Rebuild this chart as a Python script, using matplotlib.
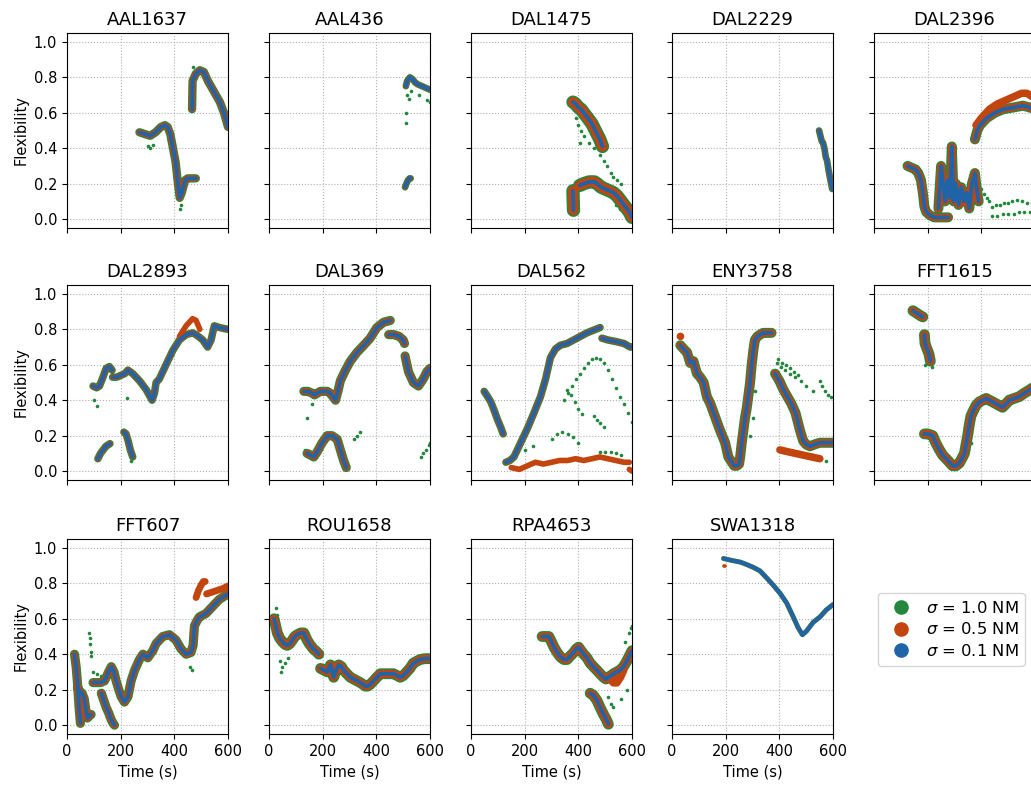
import numpy as np
import matplotlib
matplotlib.use("Agg")
import matplotlib.pyplot as plt
from matplotlib.lines import Line2D

nan = np.nan

# Flight names in panel order
names = ["AAL1637", "AAL436", "DAL1475", "DAL2229", "DAL2396",
         "DAL2893", "DAL369", "DAL562", "ENY3758", "FFT1615",
         "FFT607", "ROU1658", "RPA4653", "SWA1318"]

sigma_labels = [r"$\sigma$ = 1.0 NM", r"$\sigma$ = 0.5 NM", r"$\sigma$ = 0.1 NM"]

# main trace (all sigmas), NaN splits separate pieces
aal1637_t = [270, 290, 310, 330, 350, 365, 375, 385, 395, 405, 412, 420, 428, 440, 450, 465, 480,
             nan, 466, 468, 480, 495, 510, 525, 540, 555, 570, 585, 600]
aal1637_f = [0.49, 0.48, 0.47, 0.49, 0.52, 0.53, 0.52, 0.48, 0.40, 0.32, 0.22, 0.12, 0.15, 0.22, 0.23, 0.23, 0.23,
             nan, 0.62, 0.78, 0.82, 0.84, 0.83, 0.78, 0.74, 0.70, 0.66, 0.60, 0.52]
aal1637_ot = []
aal1637_of = []
aal1637_gt = [300, 310, 320, 420, 425, 470, 478, 520, 560]
aal1637_gf = [0.41, 0.40, 0.42, 0.06, 0.08, 0.86, 0.83, 0.76, 0.68]

aal436_t = [510, 515, 525, 535, 545, 555, 570, 585, 600, nan, 507, 512, 518, 524, 528]
aal436_f = [0.75, 0.78, 0.80, 0.79, 0.77, 0.76, 0.75, 0.74, 0.73, nan, 0.18, 0.20, 0.22, 0.23, 0.23]
aal436_ot = []
aal436_of = []
aal436_gt = [510, 510, 515, 520, 530, 560, 590, 600]
aal436_gf = [0.60, 0.54, 0.70, 0.68, 0.72, 0.70, 0.67, 0.66]

dal1475_t = [380, 390, 400, 410, 420, 430, 440, 450, 460, 470, 480, 490,
             nan, 405, 420, 440, 460, 470, 485, 500, 515, 530, 545, 560, 575, 590, 600,
             nan, 380, 381, 382]
dal1475_f = [0.66, 0.65, 0.63, 0.62, 0.60, 0.58, 0.56, 0.54, 0.51, 0.48, 0.45, 0.41,
             nan, 0.19, 0.20, 0.21, 0.21, 0.20, 0.18, 0.17, 0.16, 0.15, 0.13, 0.10, 0.07, 0.04, 0.01,
             nan, 0.16, 0.10, 0.05]
dal1475_ot = []
dal1475_of = []
dal1475_gt = [392, 398, 405, 410, 420, 440, 460, 480, 495, 505, 520, 530, 545, 560, 540, 555]
dal1475_gf = [0.57, 0.53, 0.43, 0.50, 0.47, 0.43, 0.40, 0.36, 0.33, 0.30, 0.26, 0.24, 0.22, 0.20, 0.08, 0.06]

dal2229_t = [548, 553, 558, 563, 568, 573, 578, 583, 588, 593, 597]
dal2229_f = [0.50, 0.47, 0.44, 0.43, 0.40, 0.35, 0.33, 0.28, 0.24, 0.20, 0.17]
dal2229_ot = []
dal2229_of = []
dal2229_gt = []
dal2229_gf = []

dal2396_t = [125, 140, 155, 165, 175, 182, 188, 195, 210, 225, 240, 255, 270, 276,
             nan, 240, 250, 258, 265, 275, 283, 290, 297, 305, 315, 325, 335, 345, 355, 365, 376, 382, 390,
             nan, 376, 385, 395, 420, 450, 481, 520, 555, 580, 600]
dal2396_f = [0.30, 0.29, 0.28, 0.26, 0.22, 0.15, 0.07, 0.04, 0.02, 0.01, 0.01, 0.01, 0.01, 0.01,
             nan, 0.06, 0.30, 0.20, 0.10, 0.22, 0.12, 0.41, 0.10, 0.20, 0.08, 0.18, 0.10, 0.15, 0.06, 0.20,
             0.26, 0.18, 0.10,
             nan, 0.45, 0.50, 0.53, 0.57, 0.60, 0.62, 0.63, 0.64, 0.63, 0.62]
dal2396_ot = [380, 400, 430, 460, 490, 520, 550, 570, 590, 600,
              nan, 250, 262, 275, 288, 300, 312, 325, 340]
dal2396_of = [0.53, 0.57, 0.62, 0.65, 0.67, 0.69, 0.71, 0.71, 0.69, 0.68,
              nan, 0.18, 0.14, 0.16, 0.12, 0.14, 0.10, 0.12, 0.09]
dal2396_gt = [380, 390, 400, 410, 420, 430, 440, 455, 470, 485, 500, 515, 533, 550, 570, 590, 600,
              440, 460, 480, 500, 520, 540, 560, 580, 600]
dal2396_gf = [0.24, 0.20, 0.17, 0.14, 0.12, 0.10, 0.07, 0.08, 0.08, 0.09, 0.09, 0.10, 0.11, 0.10, 0.09, 0.09, 0.08,
              0.02, 0.02, 0.03, 0.03, 0.03, 0.04, 0.04, 0.04, 0.04]

dal2893_t = [97, 110, 121, 134, 146, 158, 168,
             nan, 170, 185, 200, 215, 227, 245, 270, 295, 317, 326, 332, 344, 369, 394, 419, 444, 468,
             481, 506, 524, 537, 549, 568, 600,
             nan, 115, 125, 135, 145, 155, 160,
             nan, 212, 220, 228, 236, 245]
dal2893_f = [0.48, 0.47, 0.48, 0.53, 0.58, 0.59, 0.57,
             nan, 0.53, 0.53, 0.54, 0.55, 0.57, 0.55, 0.51, 0.46, 0.40, 0.44, 0.50, 0.52, 0.60, 0.68, 0.74, 0.77, 0.78,
             0.77, 0.74, 0.70, 0.74, 0.82, 0.81, 0.80,
             nan, 0.07, 0.10, 0.12, 0.14, 0.15, 0.155,
             nan, 0.22, 0.21, 0.17, 0.12, 0.08]
dal2893_ot = [419, 444, 468, 481, 495]
dal2893_of = [0.76, 0.82, 0.86, 0.85, 0.80]
dal2893_gt = [100, 110, 225, 240]
dal2893_gf = [0.40, 0.37, 0.41, 0.06]

dal369_t = [130, 145, 160, 170, 180, 192, 205, 217, 228, 238, 248, 257, 266, 285, 303, 328, 353, 377,
            402, 427, 452,
            nan, 446, 465, 485, 500, 505,
            nan, 507, 520, 538, 557, 575, 588, 600,
            nan, 142, 155, 167, 180, 198, 217, 235, 254, 266, 278, 288]
dal369_f = [0.45, 0.45, 0.44, 0.43, 0.44, 0.45, 0.45, 0.45, 0.44, 0.42, 0.40, 0.45, 0.51, 0.57, 0.62, 0.67,
            0.71, 0.75, 0.81, 0.84, 0.85,
            nan, 0.77, 0.77, 0.76, 0.74, 0.72,
            nan, 0.65, 0.56, 0.50, 0.48, 0.52, 0.56, 0.58,
            nan, 0.10, 0.09, 0.08, 0.11, 0.16, 0.20, 0.20, 0.18, 0.12, 0.06, 0.02]
dal369_ot = []
dal369_of = []
dal369_gt = [316, 328, 340, 565, 575, 585, 595, 600, 135, 140, 160]
dal369_gf = [0.18, 0.20, 0.22, 0.08, 0.10, 0.12, 0.15, 0.16, 0.12, 0.30, 0.38]

dal562_t = [49, 62, 74, 87, 99, 110, 120,
            nan, 130, 145, 160, 185, 210, 235, 259, 278, 296, 315, 333, 358, 395, 432, 481,
            nan, 488, 510, 543, 570, 593, 600]
dal562_f = [0.45, 0.42, 0.39, 0.34, 0.29, 0.25, 0.21,
            nan, 0.05, 0.06, 0.08, 0.16, 0.24, 0.33, 0.42, 0.52, 0.64, 0.69, 0.71, 0.72, 0.75, 0.78, 0.81,
            nan, 0.75, 0.74, 0.73, 0.72, 0.70, 0.70]
# spread of the noisier runs (orange band near zero)
dal562_ot = [150, 180, 210, 240, 270, 300, 330, 360, 390, 420, 450, 480, 510, 540, 570, 590, nan, 590, 600]
dal562_of = [0.02, 0.01, 0.03, 0.05, 0.04, 0.05, 0.06, 0.06, 0.07, 0.06, 0.07, 0.08, 0.07, 0.06, 0.05, 0.05,
             nan, 0.01, 0.0]
dal562_gt = [345, 360, 375, 390, 405, 420, 435, 450, 465, 480, 495, 510, 525, 540, 555, 570, 585, 600,
             300, 320, 340, 360, 380, 400,
             358, 372, 386, 400, 414, 457, 470, 482, 494,
             480, 500, 520, 540, 560, 200, 230]
dal562_gf = [0.40, 0.44, 0.48, 0.52, 0.55, 0.58, 0.61, 0.63, 0.64, 0.63, 0.61, 0.57, 0.52, 0.47, 0.42, 0.38, 0.33, 0.28,
             0.18, 0.21, 0.22, 0.21, 0.19, 0.16,
             0.46, 0.43, 0.39, 0.35, 0.32, 0.31, 0.29, 0.27, 0.25,
             0.11, 0.11, 0.11, 0.10, 0.09, 0.12, 0.14]

eny3758_t = [31, 43, 56, 68, 80, 93, 105, 118, 130, 143, 155, 167, 179, 190, 198, 210, 223, 232, 241, 250,
             254, 260, 266, 272, 278, 285, 291, 297, 303, 309, 318, 328, 340, 353, 365, 371,
             nan, 384, 400, 415, 430, 445, 460, 477, 489, 500, 514, 530, 551, 575, 600]
eny3758_f = [0.71, 0.69, 0.67, 0.61, 0.62, 0.55, 0.53, 0.50, 0.42, 0.38, 0.33, 0.28, 0.23, 0.19, 0.16, 0.08,
             0.05, 0.03, 0.03, 0.04, 0.08, 0.16, 0.23, 0.30, 0.35, 0.43, 0.50, 0.60, 0.68, 0.74, 0.76, 0.77,
             0.78, 0.78, 0.78, 0.78,
             nan, 0.55, 0.51, 0.46, 0.42, 0.38, 0.33, 0.23, 0.17, 0.15, 0.14, 0.15, 0.16, 0.16, 0.16]
eny3758_ot = [31, 32, nan, 402, 430, 460, 490, 520, 551]
eny3758_of = [0.76, 0.76, nan, 0.12, 0.11, 0.10, 0.09, 0.08, 0.07]
eny3758_gt = [390, 405, 420, 440, 460, 480, 500, 526,
              395, 410, 425, 440, 455, 470,
              551, 560, 570, 580, 594,
              415, 450, 480, 520, 551, 575, 290, 300, 310]
eny3758_gf = [0.61, 0.59, 0.57, 0.55, 0.53, 0.51, 0.48, 0.45,
              0.63, 0.61, 0.60, 0.58, 0.56, 0.54,
              0.51, 0.48, 0.45, 0.43, 0.42,
              0.12, 0.11, 0.10, 0.09, 0.08, 0.06, 0.20, 0.30, 0.45]

fft1615_t = [145, 155, 165, 175, 182,
             nan, 188, 190, 195, 200, 205, 210,
             nan, 188, 200, 219, 230, 244, 256, 269, 281, 293, 305, 318, 327, 337, 343, 349, 355, 361, 370, 380,
             392, 405, 418, 430, 443, 455, 467, 479, 492, 504, 522, 541, 560, 582, 600]
fft1615_f = [0.905, 0.895, 0.885, 0.875, 0.87,
             nan, 0.77, 0.72, 0.70, 0.68, 0.66, 0.62,
             nan, 0.21, 0.21, 0.20, 0.16, 0.12, 0.09, 0.07, 0.05, 0.03, 0.03, 0.045, 0.07, 0.10, 0.15, 0.20,
             0.26, 0.31, 0.34, 0.37, 0.39, 0.40, 0.41, 0.40, 0.39, 0.38, 0.37, 0.36, 0.38, 0.40, 0.41, 0.42,
             0.44, 0.46, 0.48]
fft1615_ot = []
fft1615_of = []
fft1615_gt = [190, 215, 350, 360]
fft1615_gf = [0.60, 0.59, 0.12, 0.16]

fft607_t = [28, 34, 40, 45, 50,
            nan, 40, 48, 56, 64, 70, 76, 82, 90,
            nan, 97, 110, 125, 140, 146, 155, 165, 175, 183, 193, 202, 214, 227, 239, 252, 270, 283, 301, 320,
            332, 357, 382, 406, 425, 444, 462, 470, 475, 485, 493, 518, 543, 568, 600,
            nan, 128, 137, 146, 155, 165, 172, 177]
fft607_f = [0.40, 0.33, 0.22, 0.10, 0.01,
            nan, 0.21, 0.19, 0.18, 0.15, 0.09, 0.04, 0.05, 0.06,
            nan, 0.24, 0.24, 0.24, 0.25, 0.27, 0.30, 0.33, 0.30, 0.25, 0.20, 0.16, 0.13, 0.16, 0.25, 0.31, 0.37,
            0.40, 0.38, 0.42, 0.46, 0.50, 0.51, 0.48, 0.43, 0.40, 0.41, 0.45, 0.56, 0.59, 0.61, 0.63, 0.67,
            0.71, 0.74,
            nan, 0.18, 0.14, 0.10, 0.07, 0.03, 0.01, 0.0]
fft607_ot = [481, 490, 500, 508, 515, nan, 520, 540, 560, 580, 600]
fft607_of = [0.72, 0.76, 0.79, 0.81, 0.81, nan, 0.74, 0.75, 0.76, 0.77, 0.785]
fft607_gt = [83, 85, 87, 89, 90, 97, 110, 125, 135, 460, 465]
fft607_gf = [0.52, 0.49, 0.46, 0.41, 0.39, 0.30, 0.29, 0.28, 0.27, 0.33, 0.31]

rou1658_t = [19, 25, 31, 40, 50, 60, 68, 78, 87, 96, 105, 118, 130, 136, 142, 150, 155, 165, 173, 180, 186,
             nan, 192, 205, 217, 229, 241, 250, 260, 270, 278, 290, 303, 315, 328, 340, 350, 359, 368, 377, 390,
             402, 415, 427, 445, 464, 477, 489, 501, 513, 525, 538, 550, 563, 580, 600]
rou1658_f = [0.60, 0.56, 0.52, 0.49, 0.47, 0.455, 0.45, 0.46, 0.48, 0.50, 0.51, 0.52, 0.52, 0.50, 0.48, 0.46,
             0.45, 0.43, 0.42, 0.41, 0.40,
             nan, 0.32, 0.31, 0.30, 0.34, 0.27, 0.31, 0.34, 0.33, 0.31, 0.29, 0.27, 0.26, 0.25, 0.24, 0.23, 0.22,
             0.22, 0.23, 0.25, 0.27, 0.29, 0.29, 0.29, 0.29, 0.28, 0.27, 0.28, 0.30, 0.32, 0.35, 0.36, 0.37,
             0.375, 0.375]
rou1658_ot = []
rou1658_of = []
rou1658_gt = [40, 50, 45, 60, 30, 25, 70]
rou1658_gf = [0.36, 0.33, 0.30, 0.35, 0.62, 0.66, 0.38]

rpa4653_t = [265, 278, 290, 300, 309, 321, 333, 346, 358, 370, 383, 392, 401, 410, 420, 432, 444, 456, 469,
             481, 494, 503, 512, 522, 531, 543, 556, 568, 580, 590, 600,
             nan, 444, 455, 469, 481, 494, 505, 512]
rpa4653_f = [0.50, 0.50, 0.50, 0.47, 0.44, 0.41, 0.385, 0.37, 0.37, 0.39, 0.41, 0.43, 0.44, 0.42, 0.40, 0.38,
             0.35, 0.33, 0.31, 0.29, 0.27, 0.26, 0.27, 0.28, 0.29, 0.30, 0.31, 0.33, 0.36, 0.39, 0.42,
             nan, 0.18, 0.17, 0.14, 0.10, 0.06, 0.03, 0.005]
rpa4653_ot = [520, 531, 543, 556, 568]
rpa4653_of = [0.26, 0.24, 0.24, 0.27, 0.31]
rpa4653_gt = [450, 440, 510, 520, 530, 590, 595, 600, 575, 560, 580, 545]
rpa4653_gf = [0.19, 0.18, 0.16, 0.12, 0.10, 0.52, 0.55, 0.56, 0.47, 0.15, 0.20, 0.25]

swa1318_t = [192, 220, 254, 280, 303, 328, 353, 377, 402, 427, 452, 470, 486, 501, 526, 551, 575, 600]
swa1318_f = [0.94, 0.93, 0.92, 0.905, 0.89, 0.87, 0.83, 0.79, 0.745, 0.69, 0.61, 0.55, 0.51, 0.53, 0.58,
             0.61, 0.65, 0.68]
swa1318_ot = [195, 197]
swa1318_of = [0.90, 0.90]
swa1318_gt = []
swa1318_gf = []

flights = [
    (aal1637_t, aal1637_f, aal1637_ot, aal1637_of, aal1637_gt, aal1637_gf),
    (aal436_t, aal436_f, aal436_ot, aal436_of, aal436_gt, aal436_gf),
    (dal1475_t, dal1475_f, dal1475_ot, dal1475_of, dal1475_gt, dal1475_gf),
    (dal2229_t, dal2229_f, dal2229_ot, dal2229_of, dal2229_gt, dal2229_gf),
    (dal2396_t, dal2396_f, dal2396_ot, dal2396_of, dal2396_gt, dal2396_gf),
    (dal2893_t, dal2893_f, dal2893_ot, dal2893_of, dal2893_gt, dal2893_gf),
    (dal369_t, dal369_f, dal369_ot, dal369_of, dal369_gt, dal369_gf),
    (dal562_t, dal562_f, dal562_ot, dal562_of, dal562_gt, dal562_gf),
    (eny3758_t, eny3758_f, eny3758_ot, eny3758_of, eny3758_gt, eny3758_gf),
    (fft1615_t, fft1615_f, fft1615_ot, fft1615_of, fft1615_gt, fft1615_gf),
    (fft607_t, fft607_f, fft607_ot, fft607_of, fft607_gt, fft607_gf),
    (rou1658_t, rou1658_f, rou1658_ot, rou1658_of, rou1658_gt, rou1658_gf),
    (rpa4653_t, rpa4653_f, rpa4653_ot, rpa4653_of, rpa4653_gt, rpa4653_gf),
    (swa1318_t, swa1318_f, swa1318_ot, swa1318_of, swa1318_gt, swa1318_gf),
]

# styling
GREEN = "#23883d"
ORANGE = "#c2450f"
BLUE = "#2064a8"
band = [1.0, 0.8, 1.6, 0.8, 1.2, 0.9, 1.1, 0.9, 1.2, 1.3, 1.1, 1.3, 1.3, 0.6]

W, H = 1031, 785
fig = plt.figure(figsize=(W / 100, H / 100), dpi=100)
col_left = [67, 269, 471, 672, 874]
row_top = [33, 285, 539]
ax_w, ax_h = 161, 195

for i, name in enumerate(names):
    r, c = divmod(i, 5)
    ax = fig.add_axes([col_left[c] / W, 1 - (row_top[r] + ax_h) / H, ax_w / W, ax_h / H])
    t, f, ot, of, gt, gf = flights[i]
    s = band[i]
    ax.plot(t, f, color=GREEN, lw=6.0 * s, solid_capstyle="round", solid_joinstyle="round", zorder=2)
    if ot:
        ax.plot(ot, of, color=ORANGE, lw=4.5 * s, solid_capstyle="round", zorder=2.5)
    if gt:
        ax.plot(gt, gf, "o", color=GREEN, ms=2.6, mew=0, zorder=2.2)
    ax.plot(t, f, color=ORANGE, lw=4.5 * s, solid_capstyle="round", solid_joinstyle="round", zorder=3)
    ax.plot(t, f, color=BLUE, lw=2.8, solid_capstyle="round", solid_joinstyle="round", zorder=4)

    ax.set_xlim(0, 600)
    ax.set_ylim(-0.05, 1.05)
    ax.set_xticks([0, 200, 400, 600])
    ax.set_yticks([0, 0.2, 0.4, 0.6, 0.8, 1.0])
    ax.grid(True, ls=":", color="#b0b0b0", lw=0.8)
    ax.set_axisbelow(True)
    ax.tick_params(labelsize=10.5)
    ax.set_title(name, fontsize=13)
    if c == 0:
        ax.set_ylabel("Flexibility", fontsize=10.5)
    else:
        ax.set_yticklabels([])
    if r == 2:
        ax.set_xlabel("Time (s)", fontsize=10.5)
    else:
        ax.set_xticklabels([])

handles = [Line2D([], [], ls="", marker="o", ms=9.5, color=col) for col in [GREEN, ORANGE, BLUE]]
fig.legend(handles, sigma_labels, loc="upper left", bbox_to_anchor=(878 / W, 1 - 593 / H),
           fontsize=11.8, labelspacing=0.35, handletextpad=0.5, borderaxespad=0.0)

fig.savefig("out.png", dpi=100)
